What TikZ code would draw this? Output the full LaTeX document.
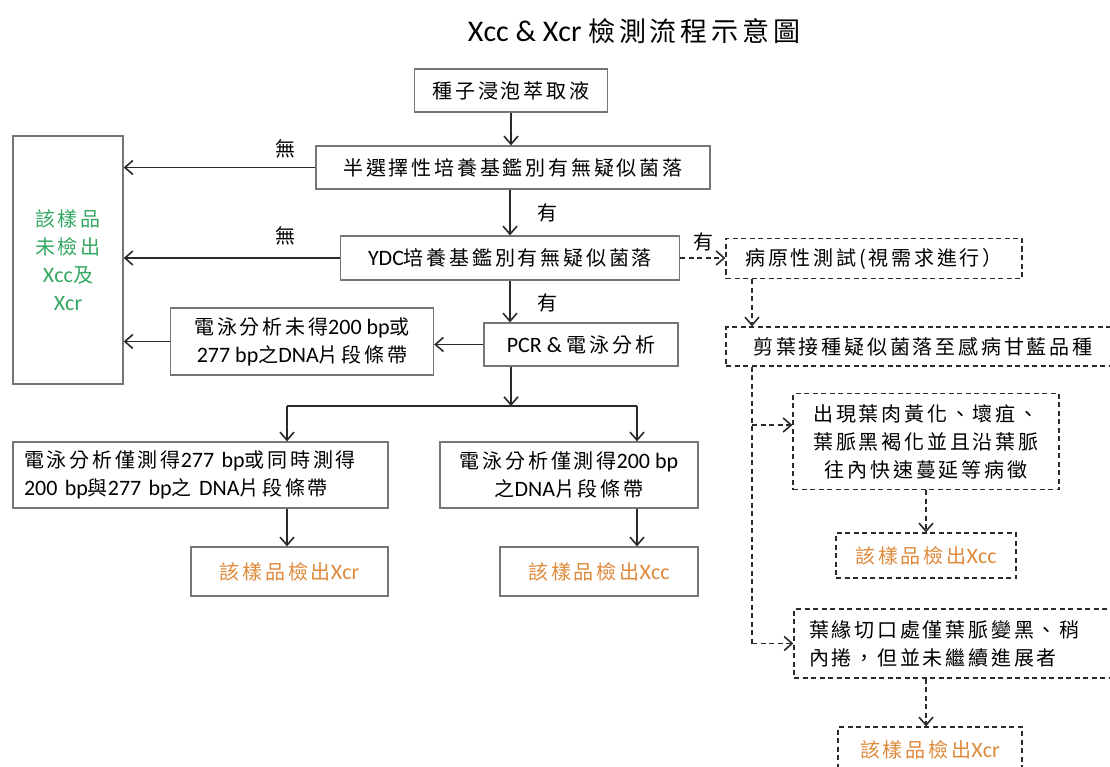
\documentclass[tikz,border=0pt]{standalone}
\usepackage{fontspec}
\setmainfont{Carlito}
\newfontfamily\cjk{Noto Sans CJK TC}[LetterSpace=14]
\usetikzlibrary{arrows.meta}
\newcommand\C[1]{{\cjk\fontsize{20}{28}\selectfont #1}}
\newcommand\CT[1]{{\cjk\fontsize{27}{32}\selectfont #1}}
\definecolor{boxgray}{HTML}{767676}
\definecolor{arrgray}{HTML}{2A2A2A}
\definecolor{okgreen}{HTML}{33A860}
\definecolor{detorange}{HTML}{E0893A}
\tikzset{
  every node/.style={font=\fontsize{22}{28}\selectfont},
  box/.style={draw=boxgray, line width=1.3pt, fill=white, inner sep=4pt, align=center},
  dbox/.style={draw=arrgray, line width=1.3pt, dash pattern=on 5pt off 3.5pt, fill=white, inner sep=4pt, align=center},
  arr/.style={draw=arrgray, line width=1.6pt, -{Straight Barb[length=8pt,width=14pt]}},
  plainline/.style={draw=arrgray, line width=1.6pt},
  darr/.style={arr, dash pattern=on 5pt off 3.5pt},
  dline/.style={plainline, dash pattern=on 5pt off 3.5pt},
  lbl/.style={inner sep=0pt}
}
\begin{document}
\begin{tikzpicture}[x=1pt,y=-1pt]
\useasboundingbox (0,0) rectangle (1110,767);
\clip (0,0) rectangle (1110,767);
\fill[white] (0,0) rectangle (1110,767);

% title
\node[lbl] (title) at (634,31) {\fontsize{30}{34}\selectfont Xcc \& Xcr \CT{檢測流程示意圖}};

% main column
\node[box, minimum width=193, minimum height=43] (seed) at (511,90.5) {\C{種子浸泡萃取液}};
\node[box, minimum width=394, minimum height=43] (semi) at (513,167.5) {\C{半選擇性培養基鑑別有無疑似菌落}};
\node[box, minimum width=110, minimum height=248, text=okgreen] (left) at (68,260) {\C{該樣品}\\\C{未檢出}\\Xcc\C{及}\\Xcr};
\node[box, minimum width=339, minimum height=44] (ydc) at (510,258) {YDC\C{培養基鑑別有無疑似菌落}};
\node[box, minimum width=263, minimum height=67] (gelno) at (302,341.5) {\C{電泳分析未得}200 bp\C{或}\\277 bp\C{之}DNA\C{片段條帶}};
\node[box, minimum width=194, minimum height=43] (pcr) at (581,344.5) {PCR \& \C{電泳分析}};
\node[box, minimum width=375, minimum height=66, text width=353, inner xsep=11pt, align=left] (gel277) at (200.5,475) {\C{電泳分析僅測得}277 bp\C{或同時測得}\\200 bp\C{與}277 bp\C{之} DNA\C{片段條帶}};
\node[box, minimum width=258, minimum height=66] (gel200) at (569,475) {\C{電泳分析僅測得}200 bp\\\C{之}DNA\C{片段條帶}};
\node[box, minimum width=197, minimum height=49, text=detorange] (xcr1) at (289.5,571.5) {\C{該樣品檢出}Xcr};
\node[box, minimum width=198, minimum height=49, text=detorange] (xcc1) at (599,571.5) {\C{該樣品檢出}Xcc};

% labels
\node[lbl] (n1) at (285,149) {\C{無}};
\node[lbl] (n2) at (285,236) {\C{無}};
\node[lbl] (y1) at (547,213) {\C{有}};
\node[lbl] (y2) at (547,303) {\C{有}};
\node[lbl] (y3) at (703,242) {\C{有}};

% main connectors
\draw[arr] (seed.south) -- (seed.south |- semi.north);
\draw[arr] (semi.west) -- (semi.west -| left.east);
\draw[arr] (semi.south -| ydc.north) -- (ydc.north);
\draw[arr] (ydc.west) -- (ydc.west -| left.east);
\draw[arr] (ydc.south) -- (ydc.south |- pcr.north);
\draw[arr] (pcr.west) -- (pcr.west -| gelno.east);
\draw[arr] (gelno.west) -- (gelno.west -| left.east);
\coordinate (br) at (511,406);
\coordinate (bl) at (287,406);
\coordinate (brr) at (637,406);
\draw[arr] (br |- pcr.south) -- (br);
\draw[plainline] (bl) -- (brr);
\draw[arr] (bl) -- (bl |- gel277.north);
\draw[arr] (brr) -- (brr |- gel200.north);
\draw[arr] (bl |- gel277.south) -- (bl |- xcr1.north);
\draw[arr] (brr |- gel200.south) -- (brr |- xcc1.north);

% pathogenicity branch
\node[dbox, minimum width=296, minimum height=40] (path) at (874,258.5) {\C{病原性測試(視需求進行）}};
\node[dbox, minimum width=394, minimum height=39] (cut) at (923,346.5) {\C{剪葉接種疑似菌落至感病甘藍品種}};
\node[dbox, minimum width=266, minimum height=96] (sym1) at (926,441.5) {\C{出現葉肉黃化、壞疽、}\\\C{葉脈黑褐化並且沿葉脈}\\\C{往內快速蔓延等病徵}};
\node[dbox, minimum width=180, minimum height=45, text=detorange] (xcc2) at (926,555.5) {\C{該樣品檢出}Xcc};
\node[dbox, minimum width=326, minimum height=69, text width=296, inner xsep=15pt, align=left] (sym2) at (957,643.5) {\C{葉緣切口處僅葉脈變黑、稍}\\\C{內捲，但並未繼續進展者}};
\node[dbox, minimum width=184, minimum height=46, text=detorange] (xcr2) at (930,750) {\C{該樣品檢出}Xcr};

\coordinate (vx) at (752,300);
\coordinate (b1) at (752,425);
\draw[darr] (ydc.east) -- (ydc.east -| path.west);
\draw[darr] (vx |- path.south) -- (vx |- cut.north);
\draw[dline] (vx |- cut.south) -- (vx |- sym2.west);
\draw[darr] (b1) -- (b1 -| sym1.west);
\draw[darr] (vx |- sym2.west) -- (sym2.west);
\draw[darr] (sym1.south) -- (xcc2.north);
\draw[darr] (xcc2.north |- sym2.south) -- (xcc2.north |- xcr2.north);
\end{tikzpicture}
\end{document}
